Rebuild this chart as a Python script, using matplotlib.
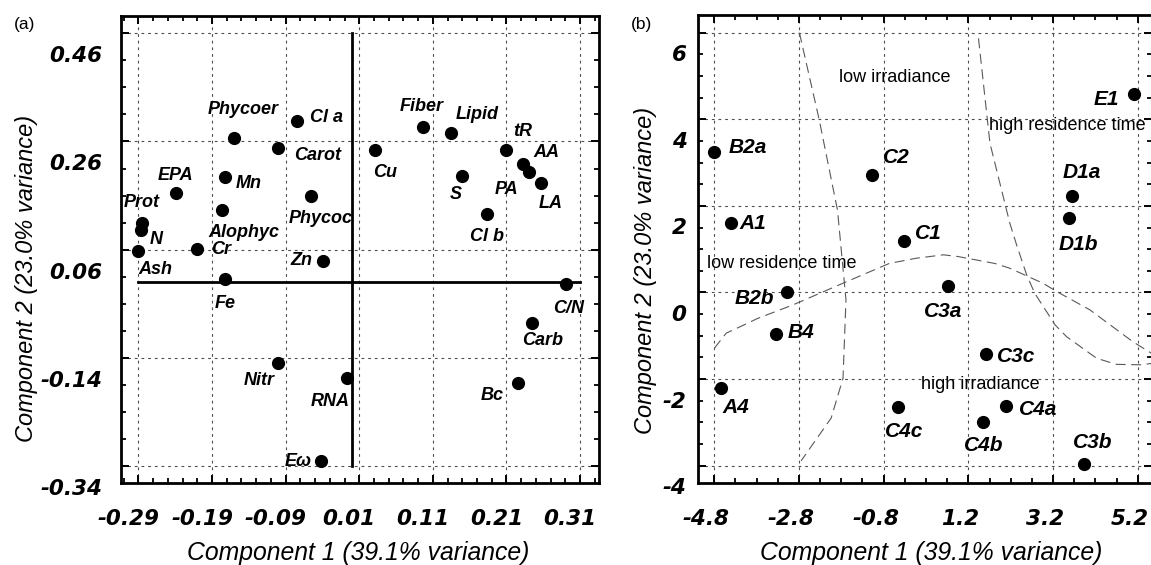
import numpy as np
import matplotlib
matplotlib.use("Agg")
from matplotlib import pyplot as plt
from matplotlib.ticker import FixedLocator
from matplotlib.transforms import ScaledTranslation

# ---- (a) loadings of the variables ----
var_names = ["Phycoer", "Cl a", "Carot", "Mn", "EPA", "Alophyc", "Prot", "N",
             "Phycoc", "Ash", "Cr", "Fe", "Nitr", "Zn", "RNA", "Eω", "Bc",
             "Cu", "Fiber", "Lipid", "tR", "S", "Cl b", "AA", "PA", "LA",
             "C/N", "Carb"]
var_pc1 = [-0.160, -0.074, -0.100, -0.173, -0.239, -0.177, -0.285, -0.287,
           -0.056, -0.290, -0.210, -0.173, -0.100, -0.039, -0.007, -0.042,
           0.225, 0.031, 0.097, 0.135, 0.210, 0.150, 0.184, 0.233, 0.241,
           0.257, 0.291, 0.245]
var_pc2 = [0.266, 0.297, 0.247, 0.194, 0.165, 0.134, 0.110, 0.096,
           0.159, 0.058, 0.061, 0.005, -0.150, 0.039, -0.178, -0.331,
           -0.187, 0.244, 0.287, 0.276, 0.245, 0.197, 0.126, 0.218, 0.204,
           0.184, -0.004, -0.076]

# ---- (b) scores of the sites ----
site_names = ["B2a", "C2", "A1", "C1", "E1", "D1a", "D1b", "B2b", "B4", "A4",
              "C4c", "C3a", "C3c", "C4a", "C4b", "C3b"]
site_pc1 = [-4.80, -1.08, -4.41, -0.31, 5.11, 3.66, 3.58, -3.09, -3.34, -4.63,
            -0.45, 0.73, 1.62, 2.09, 1.54, 3.93]
site_pc2 = [3.24, 2.71, 1.60, 1.19, 4.58, 2.24, 1.73, 0.02, -0.97, -2.21,
            -2.65, 0.16, -1.43, -2.62, -2.98, -3.95]

# hand-drawn group boundaries in (b)
irr_x = [-2.79, -2.32, -1.89, -1.69, -1.76, -2.04, -2.75]
irr_y = [6.00, 3.98, 1.90, -0.17, -1.98, -2.90, -3.89]
res_low_x = [-4.80, -4.52, -4.10, -3.78, -2.95, -1.77, -0.67, -0.04, 0.61,
             0.96, 1.83, 2.18, 2.97, 3.29, 4.07, 5.09, 5.52]
res_low_y = [-1.29, -0.94, -0.75, -0.60, -0.29, 0.21, 0.67, 0.79, 0.87,
             0.83, 0.67, 0.56, 0.21, 0.02, -0.40, -1.14, -1.40]
res_high_x = [1.44, 1.71, 2.18, 2.34, 2.58, 2.77, 3.25, 3.52, 4.23, 4.70,
              5.26, 5.52]
res_high_y = [5.87, 3.45, 1.60, 1.10, 0.40, -0.02, -0.75, -1.02, -1.52,
              -1.66, -1.67, -1.64]

xticks_a = [-0.29, -0.19, -0.09, 0.01, 0.11, 0.21, 0.31]
yticks_a = [0.46, 0.26, 0.06, -0.14, -0.34]
xticks_b = [-4.8, -2.8, -0.8, 1.2, 3.2, 5.2]
yticks_b = [6, 4, 2, 0, -2, -4]

# label offsets (pixels) relative to the dots
off_a = {"Phycoer": (9, 29), "Cl a": (29, 4), "Carot": (39, -7),
         "Mn": (24, -6), "EPA": (0, 17), "Alophyc": (22, -23),
         "Prot": (0, 20), "N": (16, -9), "Phycoc": (10, -22),
         "Ash": (17, -19), "Cr": (24, 0), "Fe": (1, -24), "Nitr": (-19, -17),
         "Zn": (-22, 0), "RNA": (-17, -23), "Eω": (-23, 0), "Bc": (-25, -12),
         "Cu": (10, -22), "Fiber": (-2, 20), "Lipid": (26, 18),
         "tR": (16, 18), "S": (-7, -19), "Cl b": (0, -23), "AA": (23, 12),
         "PA": (-23, -18), "LA": (10, -21), "C/N": (3, -24),
         "Carb": (10, -17)}
off_b = {"B2a": (34, 5), "C2": (25, 18), "A1": (22, 0), "C1": (24, 7),
         "E1": (-28, -5), "D1a": (9, 23), "D1b": (9, -27), "B2b": (-32, -7),
         "B4": (25, 2), "A4": (14, -19), "C4c": (6, -24), "C3a": (-5, -26),
         "C3c": (30, -2), "C4a": (32, -4), "C4b": (1, -24), "C3b": (9, 21)}

TICKFONT = dict(family="DejaVu Sans", weight="bold", style="oblique", size=15.5)
LABFONT = dict(family="Liberation Sans", style="italic")
PTFONT = dict(family="Liberation Sans", weight="bold", style="italic")

fig = plt.figure(figsize=(11.51, 5.65), dpi=100)
W, H = 1151, 565


def px_axes(left, top, right, bottom):
    return fig.add_axes([left / W, 1 - bottom / H, (right - left) / W,
                         (bottom - top) / H])


def style_axes(ax, xt, xlabels, yt, ylabels, xminor, yminor, ypad,
               shift_x, shift_y):
    ax.set_xticks(xt, xlabels)
    ax.set_yticks(yt, ylabels)
    ax.xaxis.set_minor_locator(FixedLocator(xminor))
    ax.yaxis.set_minor_locator(FixedLocator(yminor))
    ax.tick_params(which="both", direction="in", top=True, right=True,
                   color="black")
    ax.tick_params(which="major", length=6, width=1.4)
    ax.tick_params(which="minor", length=3.5, width=1.3)
    ax.tick_params(axis="x", which="major", pad=19)
    ax.tick_params(axis="y", which="major", pad=ypad)
    for lab in ax.get_xticklabels() + ax.get_yticklabels():
        lab.set_fontproperties(matplotlib.font_manager.FontProperties(**TICKFONT))
    for lab in ax.get_xticklabels():
        lab.set_transform(lab.get_transform() +
                          ScaledTranslation(shift_x / 100, 0, fig.dpi_scale_trans))
    for lab in ax.get_yticklabels():
        lab.set_transform(lab.get_transform() +
                          ScaledTranslation(0, -shift_y / 100, fig.dpi_scale_trans))
    for sp in ax.spines.values():
        sp.set_linewidth(2)
    ax.grid(True, which="major", ls=(0, (2.5, 3.5)), lw=0.8, color="0.3")
    ax.set_axisbelow(True)
    ax.set_xlabel("Component 1 (39.1% variance)", size=17.8, **LABFONT)
    ax.set_ylabel("Component 2 (23.0% variance)", size=17, **LABFONT)
    ax.xaxis.label.set_va("center")
    ax.yaxis.label.set_va("center")


# ---------------- panel (a) ----------------
axA = px_axes(120.7, 16, 598.5, 482.7)
axA.set_xlim(-0.314, 0.335)
axA.set_ylim(-0.371, 0.492)
style_axes(axA, xticks_a, [f"{v:.2f}" for v in xticks_a],
           yticks_a, [f"{v:.2f}" for v in yticks_a],
           np.arange(-0.31, 0.34, 0.02), np.arange(-0.34, 0.50, 0.05),
           13, -10, 21)
axA.plot([xticks_a[0], xticks_a[-1]], [0, 0], color="black", lw=2)
axA.plot([0, 0], [yticks_a[0], yticks_a[-1]], color="black", lw=2)
axA.scatter(var_pc1, var_pc2, s=72, color="black", zorder=3)
for name, x, y in zip(var_names, var_pc1, var_pc2):
    axA.annotate(name, (x, y), xytext=off_a[name], textcoords="offset pixels",
                 ha="center", va="center", size=13, **PTFONT)
axA.xaxis.set_label_coords(0.498, -0.1506)
axA.yaxis.set_label_coords(-0.1965, 0.4375)

# ---------------- panel (b) ----------------
axB = px_axes(697.7, 15, 1152, 482.7)
axB.set_xlim(-5.192, 5.538)
axB.set_ylim(-4.393, 6.409)
style_axes(axB, xticks_b, [f"{v:.1f}" for v in xticks_b],
           yticks_b, [f"{v:d}" for v in yticks_b],
           np.arange(-5.3, 5.6, 0.5), np.arange(-4.0, 6.5, 0.5),
           8, -8, 20.6)
dash = dict(color="0.35", lw=0.8, ls=(0, (9, 5)))
axB.plot(irr_x, irr_y, **dash)
axB.plot(res_low_x, res_low_y, **dash)
axB.plot(res_high_x, res_high_y, **dash)
axB.scatter(site_pc1, site_pc2, s=72, color="black", zorder=3)
for name, x, y in zip(site_names, site_pc1, site_pc2):
    axB.annotate(name, (x, y), xytext=off_b[name], textcoords="offset pixels",
                 ha="center", va="center", size=15, **PTFONT)
note = dict(family="Liberation Sans", size=13, ha="center", va="center")
axB.text(-0.54, 4.96, "low irradiance", **note)
axB.text(3.53, 3.85, "high residence time", **note)
axB.text(-3.21, 0.67, "low residence time", **note)
axB.text(1.48, -2.12, "high irradiance", **note)
axB.xaxis.set_label_coords(0.5135, -0.1506)
axB.yaxis.set_label_coords(-0.1145, 0.4548)

fig.text(25 / W, 1 - 25 / H, "(a)", family="Liberation Sans", size=12.5,
         ha="center", va="center")
fig.text(642 / W, 1 - 25 / H, "(b)", family="Liberation Sans", size=12.5,
         ha="center", va="center")

fig.savefig("out.png", dpi=100)
